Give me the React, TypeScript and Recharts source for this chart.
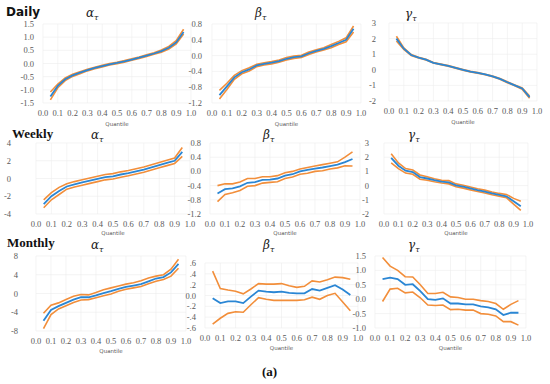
import React from 'react';
import { LineChart, Line, XAxis, YAxis, CartesianGrid } from 'recharts';

const quantiles = [0.05, 0.1, 0.15, 0.2, 0.25, 0.3, 0.35, 0.4, 0.45, 0.5, 0.55, 0.6, 0.65, 0.7, 0.75, 0.8, 0.85, 0.9, 0.95];
const xTicks = [0, 0.1, 0.2, 0.3, 0.4, 0.5, 0.6, 0.7, 0.8, 0.9, 1.0];

// Daily
const dailyAlpha = [-1.25, -0.85, -0.6, -0.45, -0.35, -0.25, -0.17, -0.1, -0.03, 0.02, 0.08, 0.15, 0.22, 0.3, 0.38, 0.47, 0.6, 0.8, 1.2];
const dailyAlphaUp = [-1.08, -0.78, -0.55, -0.41, -0.31, -0.22, -0.14, -0.07, 0.0, 0.05, 0.11, 0.18, 0.25, 0.33, 0.41, 0.51, 0.65, 0.87, 1.3];
const dailyAlphaLo = [-1.38, -0.92, -0.65, -0.49, -0.39, -0.28, -0.2, -0.13, -0.06, -0.01, 0.05, 0.12, 0.19, 0.27, 0.35, 0.43, 0.55, 0.74, 1.12];
const dailyBeta = [-1.0, -0.78, -0.55, -0.42, -0.35, -0.25, -0.21, -0.18, -0.14, -0.08, -0.04, -0.02, 0.06, 0.12, 0.17, 0.24, 0.32, 0.4, 0.68];
const dailyBetaUp = [-0.88, -0.7, -0.5, -0.38, -0.31, -0.22, -0.18, -0.15, -0.11, -0.05, -0.01, 0.01, 0.09, 0.15, 0.2, 0.28, 0.36, 0.45, 0.75];
const dailyBetaLo = [-1.1, -0.86, -0.6, -0.46, -0.39, -0.28, -0.24, -0.21, -0.17, -0.11, -0.07, -0.05, 0.03, 0.09, 0.14, 0.2, 0.28, 0.35, 0.6];
const dailyGamma = [2.0, 1.35, 0.95, 0.78, 0.65, 0.45, 0.35, 0.25, 0.12, 0.0, -0.12, -0.2, -0.3, -0.42, -0.58, -0.8, -1.0, -1.2, -1.75];
const dailyGammaUp = [2.15, 1.4, 0.98, 0.8, 0.67, 0.47, 0.37, 0.27, 0.14, 0.02, -0.1, -0.18, -0.28, -0.4, -0.56, -0.77, -0.97, -1.16, -1.68];
const dailyGammaLo = [1.85, 1.3, 0.92, 0.76, 0.63, 0.43, 0.33, 0.23, 0.1, -0.02, -0.14, -0.22, -0.32, -0.44, -0.6, -0.83, -1.03, -1.24, -1.82];

// Weekly
const weeklyAlpha = [-2.9, -2.0, -1.4, -0.9, -0.65, -0.45, -0.25, -0.05, 0.15, 0.25, 0.45, 0.6, 0.8, 1.0, 1.25, 1.5, 1.75, 2.0, 3.0];
const weeklyAlphaUp = [-2.4, -1.6, -1.0, -0.6, -0.35, -0.15, 0.05, 0.25, 0.45, 0.55, 0.75, 0.9, 1.1, 1.3, 1.55, 1.8, 2.05, 2.3, 3.5];
const weeklyAlphaLo = [-3.3, -2.4, -1.8, -1.2, -0.95, -0.75, -0.55, -0.35, -0.15, -0.05, 0.15, 0.3, 0.5, 0.7, 0.95, 1.2, 1.45, 1.7, 2.5];
const weeklyBeta = [-0.62, -0.5, -0.48, -0.42, -0.32, -0.3, -0.24, -0.23, -0.2, -0.12, -0.08, 0.0, 0.04, 0.08, 0.11, 0.15, 0.19, 0.26, 0.35];
const weeklyBetaUp = [-0.4, -0.35, -0.35, -0.3, -0.2, -0.2, -0.15, -0.15, -0.12, -0.04, 0.0, 0.07, 0.11, 0.15, 0.19, 0.23, 0.27, 0.4, 0.55];
const weeklyBetaLo = [-0.85, -0.65, -0.6, -0.54, -0.42, -0.4, -0.33, -0.31, -0.29, -0.2, -0.16, -0.08, -0.05, 0.0, 0.02, 0.07, 0.1, 0.16, 0.15];
const weeklyGamma = [1.95, 1.4, 1.05, 0.95, 0.6, 0.5, 0.38, 0.28, 0.22, 0.02, -0.08, -0.2, -0.32, -0.42, -0.55, -0.65, -0.75, -1.1, -1.45];
const weeklyGammaUp = [2.25, 1.6, 1.2, 1.1, 0.75, 0.62, 0.48, 0.38, 0.35, 0.12, 0.02, -0.1, -0.22, -0.32, -0.45, -0.55, -0.62, -0.9, -1.1];
const weeklyGammaLo = [1.6, 1.2, 0.88, 0.8, 0.45, 0.38, 0.27, 0.18, 0.12, -0.08, -0.18, -0.3, -0.42, -0.52, -0.65, -0.75, -0.85, -1.3, -1.75];

// Monthly
const monthlyAlpha = [-5.8, -3.5, -2.7, -2.0, -1.3, -0.8, -0.8, -0.4, 0.1, 0.5, 1.0, 1.4, 1.7, 2.0, 2.6, 3.2, 3.5, 4.5, 6.3];
const monthlyAlphaUp = [-4.2, -2.5, -2.0, -1.3, -0.6, -0.2, -0.3, 0.2, 0.8, 1.2, 1.6, 2.0, 2.3, 2.7, 3.3, 3.7, 4.0, 5.2, 7.3];
const monthlyAlphaLo = [-7.5, -4.5, -3.3, -2.6, -1.9, -1.4, -1.3, -0.9, -0.5, -0.1, 0.5, 0.9, 1.2, 1.5, 2.1, 2.6, 3.0, 3.7, 5.4];
const monthlyBeta = [-0.05, -0.14, -0.11, -0.11, -0.14, -0.02, 0.09, 0.07, 0.06, 0.07, 0.05, 0.04, 0.04, 0.12, 0.09, 0.14, 0.19, 0.11, 0.01];
const monthlyBetaUp = [0.45, 0.13, 0.1, 0.08, 0.03, 0.12, 0.22, 0.21, 0.21, 0.22, 0.18, 0.15, 0.17, 0.27, 0.25, 0.29, 0.34, 0.33, 0.3];
const monthlyBetaLo = [-0.53, -0.42, -0.33, -0.3, -0.31, -0.17, -0.04, -0.07, -0.09, -0.09, -0.09, -0.09, -0.08, -0.03, -0.07, 0.0, 0.04, -0.12, -0.28];
const monthlyGamma = [0.7, 0.75, 0.7, 0.5, 0.52, 0.28, 0.0, -0.02, 0.03, -0.15, -0.15, -0.18, -0.18, -0.25, -0.28, -0.35, -0.55, -0.47, -0.47];
const monthlyGammaUp = [1.45, 1.15, 1.0, 0.78, 0.77, 0.5, 0.2, 0.2, 0.24, 0.08, 0.06, 0.0, 0.0, -0.05, -0.08, -0.15, -0.35, -0.18, -0.05];
const monthlyGammaLo = [-0.08, 0.35, 0.38, 0.22, 0.25, 0.05, -0.2, -0.22, -0.2, -0.36, -0.35, -0.38, -0.38, -0.5, -0.52, -0.58, -0.78, -0.78, -0.9];

const BLUE = '#2a86d4';
const ORANGE = '#f28e3a';
const TICK = { fontSize: 8.5, fill: '#595959', fontFamily: 'Liberation Serif' };

const build = (mid: number[], up: number[], lo: number[]) =>
  quantiles.map((q, i) => ({ q, mid: mid[i], up: up[i], lo: lo[i] }));

type PanelProps = {
  left: number; top: number; w: number; h: number;
  domain: [number, number]; ticks: number[];
  fmt: (v: number) => string;
  data: any[];
  quantileY: number;
  yGap?: number;
};

const Panel = ({ left, top, w, h, domain, ticks, fmt, data, quantileY, yGap = 4 }: PanelProps) => (
  <>
    <div style={{ position: 'absolute', left: left - 44, top: top - 6 }}>
      <LineChart width={w + 44 + 8} height={h + 6 + 16} data={data}
        margin={{ top: 6, right: 8, left: 0, bottom: 0 }}>
        <CartesianGrid stroke="#ececec" strokeWidth={0.6} verticalValues={xTicks} />
        <XAxis dataKey="q" type="number" domain={[0, 1]} ticks={xTicks} height={16}
          tick={TICK} tickFormatter={(v: number) => v.toFixed(1)} axisLine={false} tickLine={false}
          tickMargin={1} interval={0} />
        <YAxis type="number" domain={domain} ticks={ticks} width={44} tick={TICK}
          tickFormatter={fmt} axisLine={false} tickLine={false} tickMargin={yGap} interval={0} />
        <Line dataKey="up" stroke={ORANGE} strokeWidth={1.6} dot={false} isAnimationActive={false} />
        <Line dataKey="lo" stroke={ORANGE} strokeWidth={1.6} dot={false} isAnimationActive={false} />
        <Line dataKey="mid" stroke={BLUE} strokeWidth={1.8} dot={false} isAnimationActive={false} />
      </LineChart>
    </div>
    <div style={{ position: 'absolute', left: left + w / 2 - 20, width: 40, top: quantileY - 3,
      lineHeight: '6px', textAlign: 'center', fontSize: 5.5, color: '#595959', fontFamily: 'DejaVu Sans' }}>Quantile</div>
  </>
);

const f1 = (v: number) => v.toFixed(1);
const f0 = (v: number) => v.toFixed(0);
const fDot = (v: number) => (v === 0 ? '0.0' : v.toFixed(1).replace('0.', '.'));

const Greek = ({ x, y, ch }: { x: number; y: number; ch: string }) => (
  <div style={{ position: 'absolute', left: x, top: y - 7, lineHeight: '14px', fontFamily: 'DejaVu Serif',
    fontStyle: 'italic', fontSize: 12, color: '#222' }}>
    {ch}<sub style={{ fontSize: 8 }}>τ</sub>
  </div>
);

const RowLabel = ({ x, y, text, serif }: { x: number; y: number; text: string; serif?: boolean }) => (
  <div style={{ position: 'absolute', left: x, top: y - 6, lineHeight: '12px', fontWeight: 'bold',
    fontSize: serif ? 13 : 12, fontFamily: serif ? 'Liberation Serif' : 'DejaVu Sans', color: '#111' }}>{text}</div>
);

export default function App() {
  return (
    <div style={{ position: 'fixed', left: 0, top: 0, width: 550, height: 384, background: '#fff', overflow: 'hidden' }}>
      <RowLabel x={6} y={12} text="Daily" />
      <RowLabel x={12} y={134} text="Weekly" serif />
      <RowLabel x={7} y={243} text="Monthly" serif />

      <Greek x={86} y={13} ch="α" />
      <Greek x={255} y={13} ch="β" />
      <Greek x={405} y={14} ch="γ" />
      <Greek x={91} y={135} ch="α" />
      <Greek x={263} y={135} ch="β" />
      <Greek x={408} y={135} ch="γ" />
      <Greek x={91} y={245} ch="α" />
      <Greek x={263} y={245} ch="β" />
      <Greek x={408} y={245} ch="γ" />

      <Panel left={43} top={24} w={148} h={79} domain={[-1.5, 1.5]} ticks={[-1.5, -1, -0.5, 0, 0.5, 1, 1.5]}
        fmt={f1} data={build(dailyAlpha, dailyAlphaUp, dailyAlphaLo)} quantileY={124} yGap={3} />
      <Panel left={212} top={24} w={149} h={79} domain={[-1.2, 0.8]} ticks={[-1.2, -0.8, -0.4, 0, 0.4, 0.8]}
        fmt={f1} data={build(dailyBeta, dailyBetaUp, dailyBetaLo)} quantileY={124} yGap={4} />
      <Panel left={389} top={23} w={148} h={78} domain={[-2, 3]} ticks={[-2, -1, 0, 1, 2, 3]}
        fmt={f0} data={build(dailyGamma, dailyGammaUp, dailyGammaLo)} quantileY={122} yGap={7} />

      <Panel left={36} top={143} w={154} h={71} domain={[-4, 4]} ticks={[-4, -2, 0, 2, 4]}
        fmt={f0} data={build(weeklyAlpha, weeklyAlphaUp, weeklyAlphaLo)} quantileY={233} yGap={19} />
      <Panel left={210} top={143} w={150} h={71} domain={[-1.2, 0.8]} ticks={[-1.2, -0.8, -0.4, 0, 0.4, 0.8]}
        fmt={f1} data={build(weeklyBeta, weeklyBetaUp, weeklyBetaLo)} quantileY={233} yGap={3} />
      <Panel left={384} top={143} w={144} h={71} domain={[-2, 3]} ticks={[-2, -1, 0, 1, 2, 3]}
        fmt={f0} data={build(weeklyGamma, weeklyGammaUp, weeklyGammaLo)} quantileY={233} yGap={9} />

      <Panel left={36} top={256} w={150} h={75} domain={[-8, 8]} ticks={[-8, -4, 0, 4, 8]}
        fmt={f0} data={build(monthlyAlpha, monthlyAlphaUp, monthlyAlphaLo)} quantileY={351} yGap={12} />
      <Panel left={205} top={263} w={153} h={65} domain={[-0.6, 0.6]} ticks={[-0.6, -0.4, -0.2, 0, 0.2, 0.4, 0.6]}
        fmt={fDot} data={build(monthlyBeta, monthlyBetaUp, monthlyBetaLo)} quantileY={348} yGap={3} />
      <Panel left={375} top={256} w={151} h={72} domain={[-1, 1.5]} ticks={[-1, -0.5, 0, 0.5, 1, 1.5]}
        fmt={f1} data={build(monthlyGamma, monthlyGammaUp, monthlyGammaLo)} quantileY={348} yGap={3} />

      <div style={{ position: 'absolute', left: 262, top: 364, fontFamily: 'Liberation Serif',
        fontWeight: 'bold', fontSize: 13, color: '#111' }}>(a)</div>
    </div>
  );
}
